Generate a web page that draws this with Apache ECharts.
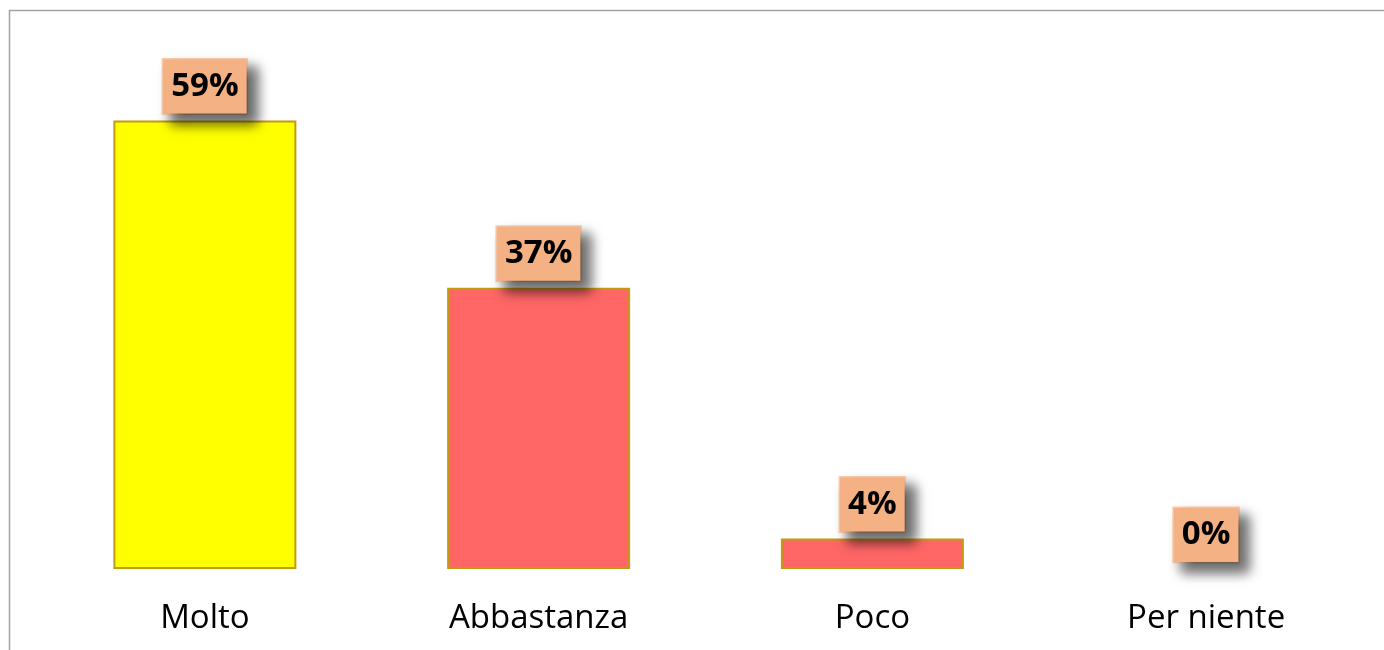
<!DOCTYPE html>
<html>
<head>
<meta charset="utf-8">
<script src="https://cdn.jsdelivr.net/npm/echarts@6/dist/echarts.min.js"></script>
<style>
  html, body { margin: 0; padding: 0; background: #ffffff; }
  #chart { width: 1384px; height: 650px; }
</style>
</head>
<body>
<div id="chart"></div>
<script>
// Risposte (percentuali) per categoria
const categories = ['Molto', 'Abbastanza', 'Poco', 'Per niente'];
const percentages = [59, 37, 4, 0];

// Colori delle barre: la prima gialla, le altre rosse
const barColors = ['#FFFF00', '#FF6666', '#FF6666', '#FF6666'];

const chart = echarts.init(document.getElementById('chart'), null, { renderer: 'canvas' });

const seriesData = percentages.map(function (v) {
  // una barra a zero non deve mostrare il bordo
  return v === 0 ? { value: v, itemStyle: { borderWidth: 0 } } : { value: v };
});

chart.setOption({
  backgroundColor: '#ffffff',
  animation: false,
  textStyle: { fontFamily: 'Open Sans' },
  graphic: [{
    type: 'rect',
    silent: true,
    shape: { x: 9.5, y: 10.5, width: 1500, height: 800 },
    style: { fill: 'none', stroke: '#a3a3a3', lineWidth: 1.5 }
  }],
  grid: { left: 38, right: 11, top: 37, bottom: 81, containLabel: false },
  xAxis: {
    type: 'category',
    data: categories,
    axisLine: { show: false },
    axisTick: { show: false },
    axisLabel: {
      color: '#000000',
      fontFamily: 'Open Sans',
      fontSize: 33,
      margin: 33
    }
  },
  yAxis: {
    type: 'value',
    min: 0,
    max: 70,
    show: false,
    splitLine: { show: false }
  },
  series: [{
    type: 'bar',
    data: seriesData,
    barWidth: 183,
    itemStyle: {
      color: function (p) { return barColors[p.dataIndex]; },
      borderColor: '#C39A10',
      borderWidth: 2
    },
    label: {
      show: true,
      position: 'top',
      distance: 7,
      formatter: '{c}%',
      color: '#000000',
      fontFamily: 'Open Sans',
      fontWeight: 'bold',
      fontSize: 33,
      lineHeight: 32,
      backgroundColor: '#F4B183',
      borderColor: '#F8CBAD',
      borderWidth: 1.5,
      padding: [11, 8, 11, 8],
      shadowColor: 'rgba(0,0,0,0.6)',
      shadowBlur: 12,
      shadowOffsetX: 9,
      shadowOffsetY: 9
    }
  }]
});
</script>
</body>
</html>
